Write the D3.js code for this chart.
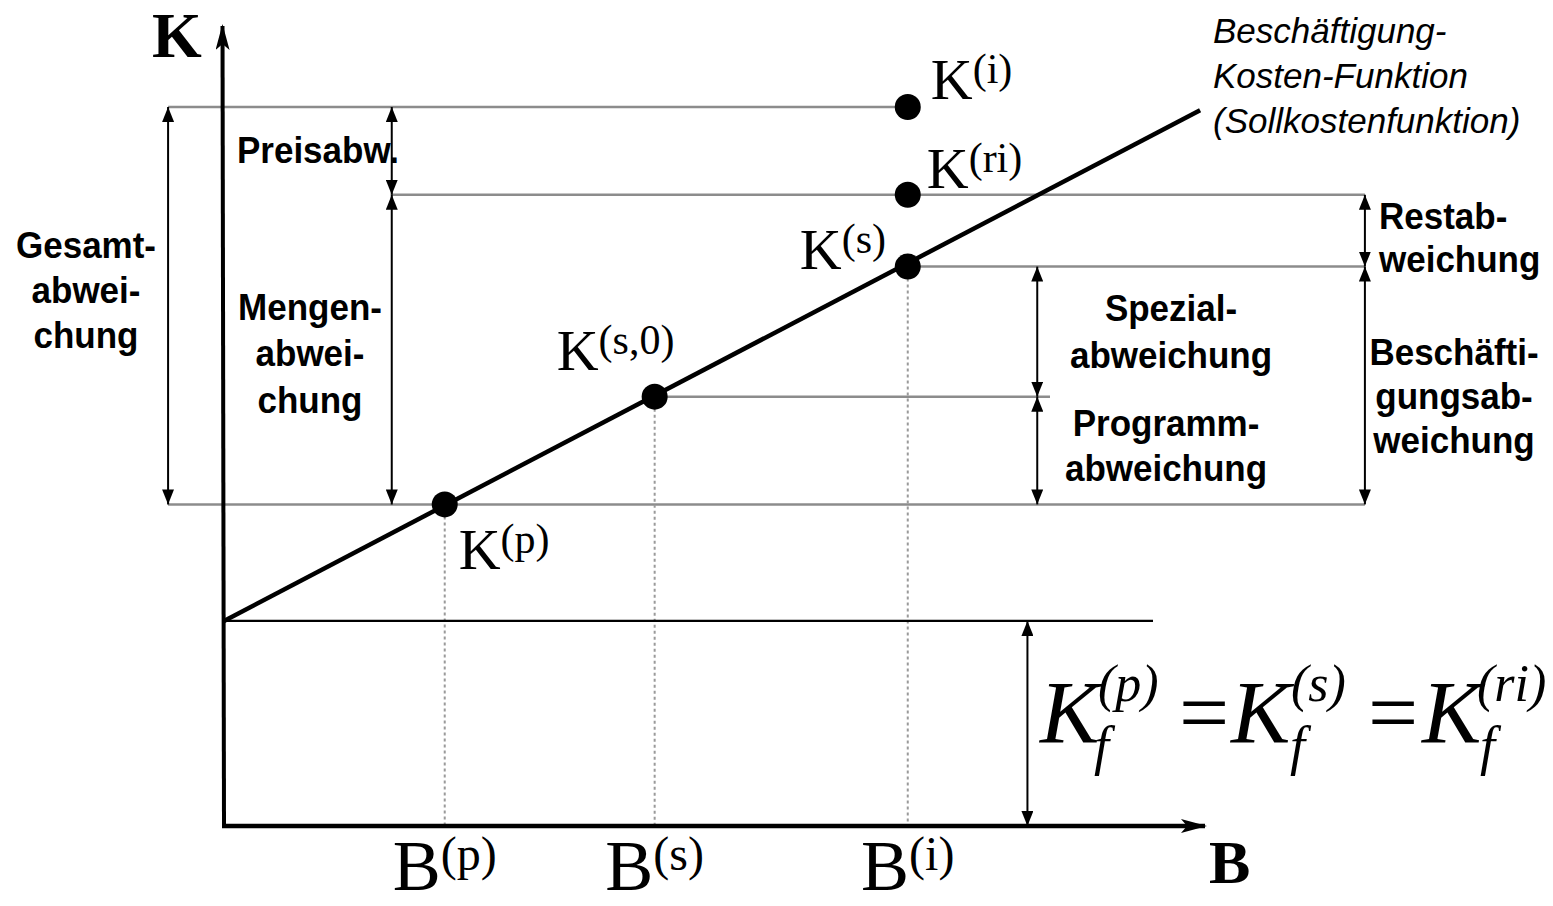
<!DOCTYPE html>
<html>
<head>
<meta charset="utf-8">
<script src="https://cdn.jsdelivr.net/npm/d3@7"></script>
<style>
  html, body { margin: 0; padding: 0; background: #fff; }
  svg { display: block; }
</style>
</head>
<body>
<script>
// ---------- data ----------
// Beschäftigung levels on the B axis
const bLabels = ["p", "s", "i"];
const bValues = [22.5, 43.9, 69.7];
// cost points
const kLabels  = ["p", "s,0", "s", "ri", "i"];
const kBValues = [22.5, 43.9, 69.7, 69.7, 69.7];
const kValues  = [40.3, 53.8, 70.1, 79.1, 90.1];
// fixed cost level and cost function end points
const fixedCost = 25.7;
const costLineB = [0, 99.5];
const costLineK = [25.7, 89.7];
// deviation labels
const deviationNames = ["Gesamtabweichung", "Preisabw.", "Mengenabweichung", "Restabweichung",
                        "Beschäftigungsabweichung", "Spezialabweichung", "Programmabweichung"];
const functionTitle = ["Beschäftigung-", "Kosten-Funktion", "(Sollkostenfunktion)"];
const fixedTerms = ["p", "s", "ri"];

// ---------- scales ----------
const W = 1553, H = 906;
const x = d3.scaleLinear().domain([0, 100]).range([224, 1205]);
const y = d3.scaleLinear().domain([0, 100]).range([826, 28]);

const svg = d3.select("body").append("svg").attr("width", W).attr("height", H);

const defs = svg.append("defs");
defs.append("marker").attr("id", "ah")
  .attr("markerUnits", "userSpaceOnUse")
  .attr("viewBox", "0 0 15 12").attr("markerWidth", 15).attr("markerHeight", 12)
  .attr("refX", 15).attr("refY", 6).attr("orient", "auto-start-reverse")
  .append("path").attr("d", "M0,0 L15,6 L0,12 Z").attr("fill", "#000");
defs.append("marker").attr("id", "axisHead")
  .attr("markerUnits", "userSpaceOnUse")
  .attr("viewBox", "0 0 26 14").attr("markerWidth", 26).attr("markerHeight", 14)
  .attr("refX", 24).attr("refY", 7).attr("orient", "auto")
  .append("path").attr("d", "M0,0 L26,7 L0,14 L6,7 Z").attr("fill", "#000");

const pt = kLabels.map((l, i) => ({ label: l, b: kBValues[i], k: kValues[i] }));
const P = Object.fromEntries(pt.map(d => [d.label, d]));

// layout positions of the brackets (in B units)
const bxGesamt = -5.7, bxMengen = 17.1, bxRight = 116.3, bxSpez = 82.9, bxSpezLine = 84.2, bxFixed = 81.9;

// ---------- gray level lines ----------
const gray = "#8c8c8c";
const levelLines = [
  { k: P["i"].k,   b0: bxGesamt, b1: P["i"].b },
  { k: P["ri"].k,  b0: bxMengen, b1: bxRight },
  { k: P["s"].k,   b0: P["s"].b, b1: bxRight },
  { k: P["s,0"].k, b0: P["s,0"].b, b1: bxSpezLine },
  { k: P["p"].k,   b0: bxGesamt, b1: bxRight }
];
svg.append("g").selectAll("line").data(levelLines).join("line")
  .attr("x1", d => x(d.b0)).attr("x2", d => x(d.b1))
  .attr("y1", d => y(d.k)).attr("y2", d => y(d.k))
  .attr("stroke", gray).attr("stroke-width", 2.5);

// dotted drop lines
svg.append("g").selectAll("line").data([P["p"], P["s,0"], P["s"]]).join("line")
  .attr("x1", d => x(d.b)).attr("x2", d => x(d.b))
  .attr("y1", d => y(d.k)).attr("y2", y(0))
  .attr("stroke", "#9a9a9a").attr("stroke-width", 2).attr("stroke-dasharray", "3,3");

// fixed cost line
svg.append("line")
  .attr("x1", x(0)).attr("x2", x(94.7))
  .attr("y1", y(fixedCost)).attr("y2", y(fixedCost))
  .attr("stroke", "#000").attr("stroke-width", 2.2);

// cost function
svg.append("path")
  .datum(costLineB.map((b, i) => [b, costLineK[i]]))
  .attr("d", d3.line().x(d => x(d[0])).y(d => y(d[1])))
  .attr("stroke", "#000").attr("stroke-width", 4.5).attr("fill", "none");

// axes
svg.append("line").attr("x1", x(0)).attr("x2", x(0) - 1.5).attr("y1", y(0) + 2).attr("y2", y(100) - 2)
  .attr("stroke", "#000").attr("stroke-width", 4).attr("marker-end", "url(#axisHead)");
svg.append("line").attr("x1", x(0) - 2).attr("x2", x(100)).attr("y1", y(0)).attr("y2", y(0))
  .attr("stroke", "#000").attr("stroke-width", 4.5).attr("marker-end", "url(#axisHead)");

// points
svg.append("g").selectAll("circle").data(pt).join("circle")
  .attr("cx", d => x(d.b)).attr("cy", d => y(d.k)).attr("r", 13).attr("fill", "#000");

// double arrows
const arrows = [
  { b: bxGesamt, k0: P["p"].k, k1: P["i"].k },
  { b: bxMengen, k0: P["ri"].k, k1: P["i"].k },
  { b: bxMengen, k0: P["p"].k, k1: P["ri"].k },
  { b: bxRight,  k0: P["s"].k, k1: P["ri"].k },
  { b: bxRight,  k0: P["p"].k, k1: P["s"].k },
  { b: bxSpez,   k0: P["s,0"].k, k1: P["s"].k },
  { b: bxSpez,   k0: P["p"].k, k1: P["s,0"].k },
  { b: bxFixed,  k0: 0, k1: fixedCost }
];
svg.append("g").selectAll("line").data(arrows).join("line")
  .attr("x1", d => x(d.b)).attr("x2", d => x(d.b))
  .attr("y1", d => y(d.k0)).attr("y2", d => y(d.k1))
  .attr("stroke", "#000").attr("stroke-width", 2)
  .attr("marker-start", "url(#ah)").attr("marker-end", "url(#ah)");

// ---------- texts ----------
const serif = "'Liberation Serif', 'Times New Roman', serif";
const sans = "'Liberation Sans', Arial, sans-serif";

// axis titles
svg.append("text").attr("x", 152).attr("y", 57).text("K")
  .attr("font-family", serif).attr("font-weight", "bold").attr("font-size", 64);
svg.append("text").attr("x", 1209).attr("y", 883).text("B")
  .attr("font-family", serif).attr("font-weight", "bold").attr("font-size", 62);

// B level labels
bLabels.forEach((l, i) => {
  const t = svg.append("text").attr("x", x(bValues[i])).attr("y", 890)
    .attr("text-anchor", "middle").attr("font-family", serif);
  t.append("tspan").attr("font-size", 72).text("B");
  t.append("tspan").attr("font-size", 48).attr("dy", -20).text("(" + l + ")");
});

// K point labels (offsets from each point)
const kOffsets = { "p": [14, 65], "s,0": [-98, -27], "s": [-108, 2], "ri": [19, -7], "i": [23, -8] };
pt.forEach(d => {
  const o = kOffsets[d.label];
  const t = svg.append("text").attr("x", x(d.b) + o[0]).attr("y", y(d.k) + o[1])
    .attr("font-family", serif);
  t.append("tspan").attr("font-size", 58).text("K");
  t.append("tspan").attr("font-size", 42).attr("dy", -16).text("(" + d.label + ")");
});

// bold deviation labels (slightly stretched vertically like the original)
const sy = 1.06;
function block(lines, cx, y0, lh, anchor) {
  const g = svg.append("g").attr("transform", `translate(${cx},${y0}) scale(1,${sy})`);
  const t = g.append("text").attr("font-family", sans).attr("font-weight", "bold")
    .attr("font-size", 35).attr("text-anchor", anchor || "middle");
  lines.forEach((s, i) => t.append("tspan").attr("x", 0).attr("y", i * lh / sy).text(s));
}
block(["Gesamt-", "abwei-", "chung"], 86, 258, 45);
block([deviationNames[1]], 318, 163, 45);
block(["Mengen-", "abwei-", "chung"], 310, 320, 46.5);
block(["Restab-", "weichung"], 1379, 229, 43, "start");
block(["Beschäfti-", "gungsab-", "weichung"], 1454, 365, 44);
block(["Spezial-", "abweichung"], 1171, 321, 47);
block(["Programm-", "abweichung"], 1166, 436, 45);

// italic function title
const ft = svg.append("text").attr("font-family", sans).attr("font-style", "italic").attr("font-size", 35);
functionTitle.forEach((s, i) => ft.append("tspan").attr("x", 1213).attr("y", 43 + i * 45).text(s));

// fixed cost formula
const termX = [1040, 1231, 1422];
const supX = [1098, 1291, 1477];
const subX = [1094, 1290, 1480];
const eqX = [1179, 1368];
const fy = 742;
fixedTerms.forEach((l, i) => {
  const g = svg.append("g").attr("font-family", serif).attr("font-style", "italic");
  g.append("text").attr("x", termX[i]).attr("y", fy).attr("font-size", 89).text("K");
  g.append("text").attr("x", supX[i]).attr("y", fy - 41).attr("font-size", 52).text("(" + l + ")");
  g.append("text").attr("x", subX[i]).attr("y", fy + 22).attr("font-size", 54).text("f");
});
eqX.forEach(ex => svg.append("text").attr("x", ex).attr("y", fy).attr("font-family", serif)
  .attr("font-size", 89).text("="));
</script>
</body>
</html>
